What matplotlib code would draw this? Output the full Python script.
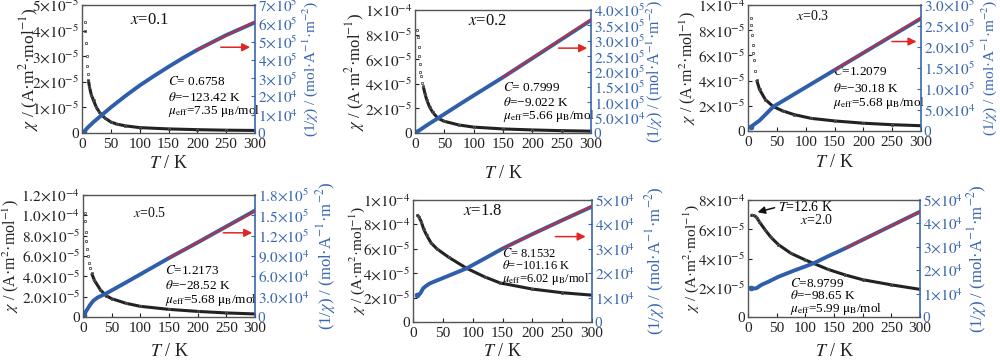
import matplotlib
matplotlib.use("Agg")
import matplotlib.pyplot as plt
import numpy as np

plt.rcParams['font.family'] = ['Liberation Serif', 'DejaVu Serif']
plt.rcParams['mathtext.fontset'] = 'stix'

BLUE = '#2f5eaa'
AXBLUE = '#3a66b0'
RED = '#e02525'

# ---------------- data ----------------
# x = 0.1   (chi in 1e-5, 1/chi in 1e5)
T1_chi = [5, 6, 7, 8, 9, 10, 11, 13, 16, 20, 25, 30, 35, 40, 50, 60, 75, 100, 150, 200, 250, 300]
chi1 = [4.35, 4.0, 3.5, 3.0, 2.6, 2.3, 2.07, 1.8, 1.5, 1.27, 1.0, 0.82, 0.69, 0.58, 0.43, 0.35, 0.28, 0.21, 0.16, 0.13, 0.11, 0.10]
T1_inv = [3, 10, 20, 35, 50, 75, 100, 125, 150, 175, 200, 250, 300]
inv1 = [0.05, 0.3, 0.6, 1.0, 1.4, 2.02, 2.6, 3.12, 3.62, 4.1, 4.55, 5.35, 6.05]
fitT1 = [200, 300]
fit1 = [4.55, 6.1]

# x = 0.2   (chi in 1e-5, 1/chi in 1e5)
T2_chi = [4, 5, 6, 7, 8, 9, 10, 12, 14, 17, 20, 25, 30, 39, 50, 75, 100, 150, 200, 250, 300]
chi2 = [8.4, 7.8, 7.0, 6.3, 5.6, 5.0, 4.6, 4.1, 3.8, 3.2, 2.7, 2.1, 1.7, 1.2, 0.95, 0.65, 0.48, 0.33, 0.25, 0.19, 0.15]
T2_inv = [2, 10, 20, 39, 75, 100, 149, 200, 250, 300]
inv2 = [0.02, 0.12, 0.25, 0.48, 0.92, 1.22, 1.8, 2.43, 3.05, 3.67]
fitT2 = [149, 300]
fit2 = [1.8, 3.7]

# x = 0.3   (chi in 1e-5, 1/chi in 1e5)
T3_chi = [5, 6, 7, 8, 9, 10, 12, 15, 20, 30, 44, 60, 80, 110, 150, 200, 250, 300]
chi3 = [9.0, 8.4, 7.6, 6.8, 6.2, 5.6, 4.8, 4.05, 3.3, 2.5, 1.93, 1.6, 1.3, 1.0, 0.8, 0.62, 0.5, 0.42]
T3_inv = [5, 10, 20, 44, 100, 150, 200, 250, 300]
inv3 = [0.1, 0.15, 0.25, 0.58, 1.04, 1.45, 1.86, 2.27, 2.68]
fitT3 = [150, 300]
fit3 = [1.45, 2.7]

# x = 0.5   (chi in 1e-5, 1/chi in 1e4)
T4_chi = [3, 4, 5, 6, 7, 8, 10, 12, 15, 20, 30, 40, 50, 75, 100, 150, 200, 250, 300]
chi4 = [10.2, 9.4, 8.4, 7.5, 6.7, 6.0, 5.3, 4.8, 4.3, 3.6, 2.7, 2.1, 1.8, 1.35, 1.05, 0.75, 0.55, 0.4, 0.3]
T4_inv = [2, 5, 8, 12, 18, 25, 41, 75, 100, 150, 200, 250, 300]
inv4 = [0.3, 0.8, 1.2, 1.75, 2.4, 2.85, 3.5, 5.1, 6.3, 8.7, 11.0, 13.35, 15.7]
fitT4 = [150, 300]
fit4 = [8.7, 15.6]

# x = 1.8   (chi in 1e-5, 1/chi in 1e4)
T5_chi = [7, 10, 14, 18, 23, 30, 40, 60, 90, 120, 146, 200, 250, 300]
chi5 = [8.8, 8.6, 8.2, 7.6, 7.1, 6.5, 6.0, 5.3, 4.4, 3.7, 3.2, 2.7, 2.4, 2.2]
T5_inv = [7, 10, 13, 17, 22, 28, 40, 60, 90, 120, 151, 200, 250, 300]
inv5 = [1.1, 1.12, 1.2, 1.38, 1.48, 1.58, 1.7, 1.9, 2.2, 2.6, 3.02, 3.6, 4.17, 4.73]
fitT5 = [151, 300]
fit5 = [3.02, 4.75]

# x = 2.0   (chi in 1e-5, 1/chi in 1e4)
T6_chi = [5, 8, 12.6, 15, 20, 30, 40, 53, 75, 100, 114, 140, 170, 200, 250, 300]
chi6 = [6.95, 6.95, 6.9, 6.8, 6.5, 5.95, 5.45, 4.95, 4.35, 3.9, 3.67, 3.25, 2.87, 2.55, 2.2, 1.89]
T6_inv = [5, 10, 13, 16, 23, 35, 53, 80, 114, 140, 170, 200, 250, 300]
inv6 = [1.23, 1.22, 1.22, 1.25, 1.37, 1.5, 1.72, 1.98, 2.29, 2.6, 2.94, 3.3, 3.9, 4.5]
fitT6 = [170, 300]
fit6 = [2.94, 4.5]

# tick labels
l_ticks = [
    ['0', r'$1{\times}10^{-5}$', r'$2{\times}10^{-5}$', r'$3{\times}10^{-5}$', r'$4{\times}10^{-5}$', r'$5{\times}10^{-5}$'],
    ['0', r'$2{\times}10^{-5}$', r'$4{\times}10^{-5}$', r'$6{\times}10^{-5}$', r'$8{\times}10^{-5}$', r'$1{\times}10^{-4}$'],
    ['0', r'$2{\times}10^{-5}$', r'$4{\times}10^{-5}$', r'$6{\times}10^{-5}$', r'$8{\times}10^{-5}$', r'$1{\times}10^{-4}$'],
    ['0', r'$2.0{\times}10^{-5}$', r'$4.0{\times}10^{-5}$', r'$6.0{\times}10^{-5}$', r'$8.0{\times}10^{-5}$', r'$1.0{\times}10^{-4}$', r'$1.2{\times}10^{-4}$'],
    ['0', r'$2{\times}10^{-5}$', r'$4{\times}10^{-5}$', r'$6{\times}10^{-5}$', r'$8{\times}10^{-4}$', r'$1{\times}10^{-4}$'],
    ['0', r'$2{\times}10^{-5}$', r'$4{\times}10^{-5}$', r'$6{\times}10^{-5}$', r'$8{\times}10^{-4}$'],
]
l_vals = [
    [0, 1, 2, 3, 4, 5],
    [0, 2, 4, 6, 8, 10],
    [0, 2, 4, 6, 8, 10],
    [0, 2, 4, 6, 8, 10, 12],
    [0, 2, 4, 6, 8, 10],
    [0, 2, 4, 6, 8],
]
r_ticks = [
    ['0', r'$1{\times}10^{4}$', r'$2{\times}10^{4}$', r'$3{\times}10^{5}$', r'$4{\times}10^{5}$', r'$5{\times}10^{5}$', r'$6{\times}10^{5}$', r'$7{\times}10^{5}$'],
    ['0', r'$5.0{\times}10^{4}$', r'$1.0{\times}10^{5}$', r'$1.5{\times}10^{5}$', r'$2.0{\times}10^{5}$', r'$2.5{\times}10^{5}$', r'$3.0{\times}10^{5}$', r'$3.5{\times}10^{5}$', r'$4.0{\times}10^{5}$'],
    ['0', r'$5.0{\times}10^{4}$', r'$1.0{\times}10^{5}$', r'$1.5{\times}10^{5}$', r'$2.0{\times}10^{5}$', r'$2.5{\times}10^{5}$', r'$3.0{\times}10^{5}$'],
    ['0', r'$3.0{\times}10^{4}$', r'$6.0{\times}10^{4}$', r'$9.0{\times}10^{4}$', r'$1.2{\times}10^{5}$', r'$1.5{\times}10^{5}$', r'$1.8{\times}10^{5}$'],
    ['0', r'$1{\times}10^{4}$', r'$2{\times}10^{4}$', r'$3{\times}10^{4}$', r'$4{\times}10^{4}$', r'$5{\times}10^{4}$'],
    ['0', r'$1{\times}10^{4}$', r'$2{\times}10^{4}$', r'$3{\times}10^{4}$', r'$4{\times}10^{4}$', r'$5{\times}10^{4}$'],
]
r_vals = [
    [0, 1, 2, 3, 4, 5, 6, 7],
    [0, 0.5, 1, 1.5, 2, 2.5, 3, 3.5, 4],
    [0, 0.5, 1, 1.5, 2, 2.5, 3],
    [0, 3, 6, 9, 12, 15, 18],
    [0, 1, 2, 3, 4, 5],
    [0, 1, 2, 3, 4, 5],
]
left_max = [5, 10, 10, 12, 10, 8]
right_max = [7, 4, 3, 18, 5, 5]

comp = ['0.1', '0.2', '0.3', '0.5', '1.8', '2.0']
C_vals = ['= 0.6758', '= 0.7999', '=1.2079', '=1.2173', '= 8.1532', '=8.9799']
theta_vals = ['−123.42 K', '−9.022 K', '−30.18 K', '−28.52 K', '−101.16 K', '−98.65 K']
mu_vals = ['7.35', '5.66', '5.68', '5.68', '6.02', '5.99']

chiT = [T1_chi, T2_chi, T3_chi, T4_chi, T5_chi, T6_chi]
chiV = [chi1, chi2, chi3, chi4, chi5, chi6]
invT = [T1_inv, T2_inv, T3_inv, T4_inv, T5_inv, T6_inv]
invV = [inv1, inv2, inv3, inv4, inv5, inv6]
fitT = [fitT1, fitT2, fitT3, fitT4, fitT5, fitT6]
fitV = [fit1, fit2, fit3, fit4, fit5, fit6]

# ---------------- layout (pixels) ----------------
W, H = 1000, 360
boxes = [  # x0, x1, ytop, ybot
    (82, 255, 5, 133),
    (415, 591, 10, 133),
    (748, 921, 5, 131),
    (83, 255, 195, 317),
    (413, 592, 200, 322),
    (748, 920, 200, 317),
]
line_from = [11, 13, 15, 15, 0, 0]          # sparse markers below this temperature
lab_l = [-0.305, -0.34, -0.35, -0.42, -0.31, -0.33]
lab_r = [1.32, 1.365, 1.395, 1.41, 1.35, 1.33]
lab_x = [-0.24, -0.33, -0.25, -0.285, -0.245, -0.295]
fs_l = [12.5, 12, 11.5, 11.5, 11, 11]
fs_r = [11, 11.5, 11, 12, 12, 12]
comp_pos = [(0.28, 0.88, 12), (0.30, 0.91, 12), (0.28, 0.91, 10), (0.29, 0.85, 10), (0.28, 0.91, 12), (0.30, 0.83, 10)]
par_pos = [(0.50, [0.40, 0.28, 0.17], 9.5), (0.50, [0.37, 0.25, 0.14], 9.5), (0.49, [0.47, 0.34, 0.22], 9.5),
           (0.476, [0.385, 0.26, 0.14], 9.5), (0.50, [0.565, 0.46, 0.355], 9), (0.245, [0.29, 0.185, 0.065], 9.5)]
arrows = [(0.786, 0.988, 0.67), (0.80, 0.994, 0.69), (0.816, 0.99, 0.71), (0.80, 1.0, 0.69), (0.78, 0.98, 0.70), None]

fig = plt.figure(figsize=(10, 3.6), dpi=100)

for i in range(6):
    x0, x1, yt, yb = boxes[i]
    ax = fig.add_axes([x0 / W, 1 - yb / H, (x1 - x0) / W, (yb - yt) / H])
    ax2 = ax.twinx()

    tc = np.array(chiT[i], dtype=float)
    vc = np.array(chiV[i], dtype=float)
    dense = tc >= line_from[i]
    ax.plot(tc[dense], vc[dense], color='#222222', lw=2.2, solid_capstyle='butt', zorder=3)
    ax.plot(tc, vc, ls='none', marker='s', ms=2.0,
            mfc='none', mec='#555555', mew=0.6, zorder=3)
    ti = np.array(invT[i], dtype=float)
    vi = np.array(invV[i], dtype=float)
    ax2.plot(ti, vi, color=BLUE, lw=2.8, zorder=2)
    ax2.plot(ti[:1], vi[:1], ls='none', marker='o', ms=3, color=BLUE, zorder=2)
    ax2.plot(fitT[i], fitV[i], color=RED, lw=1.1, zorder=4)

    ax.set_xlim(0, 300)
    ax.set_ylim(0, left_max[i])
    ax2.set_ylim(0, right_max[i])
    ax.set_xticks([0, 50, 100, 150, 200, 250, 300])
    ax.set_yticks(l_vals[i])
    ax.set_yticklabels(l_ticks[i])
    ax2.set_yticks(r_vals[i])
    ax2.set_yticklabels(r_ticks[i])

    ax.tick_params(axis='both', direction='in', labelsize=11, length=3, width=0.8, colors='#222222', pad=2)
    ax.tick_params(axis='x', pad=3.5)
    ax2.tick_params(axis='y', direction='in', labelsize=11, length=3, width=0.8, colors=AXBLUE, pad=2)
    for s in ['left', 'bottom', 'top']:
        ax2.spines[s].set_color('#555555')
        ax2.spines[s].set_linewidth(0.9)
    ax2.spines['right'].set_color(AXBLUE)
    ax2.spines['right'].set_linewidth(1.2)
    ax.spines['right'].set_visible(False)

    ax.set_ylabel(r'$\chi$ / (A·m$^2$·mol$^{-1}$)', fontsize=fs_l[i], color='#222222', va='center')
    ax.yaxis.set_label_coords(lab_l[i], 0.5)
    ax2.set_ylabel(r'(1/$\chi$) / (mol·A$^{-1}$·m$^{-2}$)', fontsize=fs_r[i], color=AXBLUE, rotation=90, va='center')
    ax2.yaxis.set_label_coords(lab_r[i], 0.5)
    ax.set_xlabel(r'$T$ / K', fontsize=13, color='#222222', va='center')
    ax.xaxis.set_label_coords(0.5, lab_x[i])

    cx, cy, cs = comp_pos[i]
    ax.text(cx, cy, r'$x$=' + comp[i], transform=ax.transAxes, fontsize=cs, va='center', ha='left', color='#111111')
    px, pys, ps = par_pos[i]
    ax.text(px, pys[0], r'$C$' + C_vals[i], transform=ax.transAxes, fontsize=ps, va='center', ha='left', zorder=6)
    ax.text(px, pys[1], r'$\theta$=' + theta_vals[i], transform=ax.transAxes, fontsize=ps, va='center', ha='left', zorder=6)
    ax.text(px, pys[2], r'$\mu_{\rm eff}$=' + mu_vals[i] + r' $\mathrm{\mu_B}$/mol', transform=ax.transAxes,
            fontsize=ps, va='center', ha='left', zorder=6)

    if arrows[i] is not None:
        a0, a1, ay = arrows[i]
        ax.annotate('', xy=(a1, ay), xytext=(a0, ay), xycoords='axes fraction',
                    arrowprops=dict(arrowstyle='-|>', color=RED, lw=1.1, mutation_scale=12), zorder=7)
    else:
        ax.annotate('', xy=(0.04, 0.89), xytext=(0.17, 0.94), xycoords='axes fraction',
                    arrowprops=dict(arrowstyle='-|>', color='#111111', lw=1.1, mutation_scale=11), zorder=7)
        ax.text(0.175, 0.94, r'$T$=12.6 K', transform=ax.transAxes, fontsize=10, va='center', ha='left')

fig.savefig('out.png', dpi=100)
